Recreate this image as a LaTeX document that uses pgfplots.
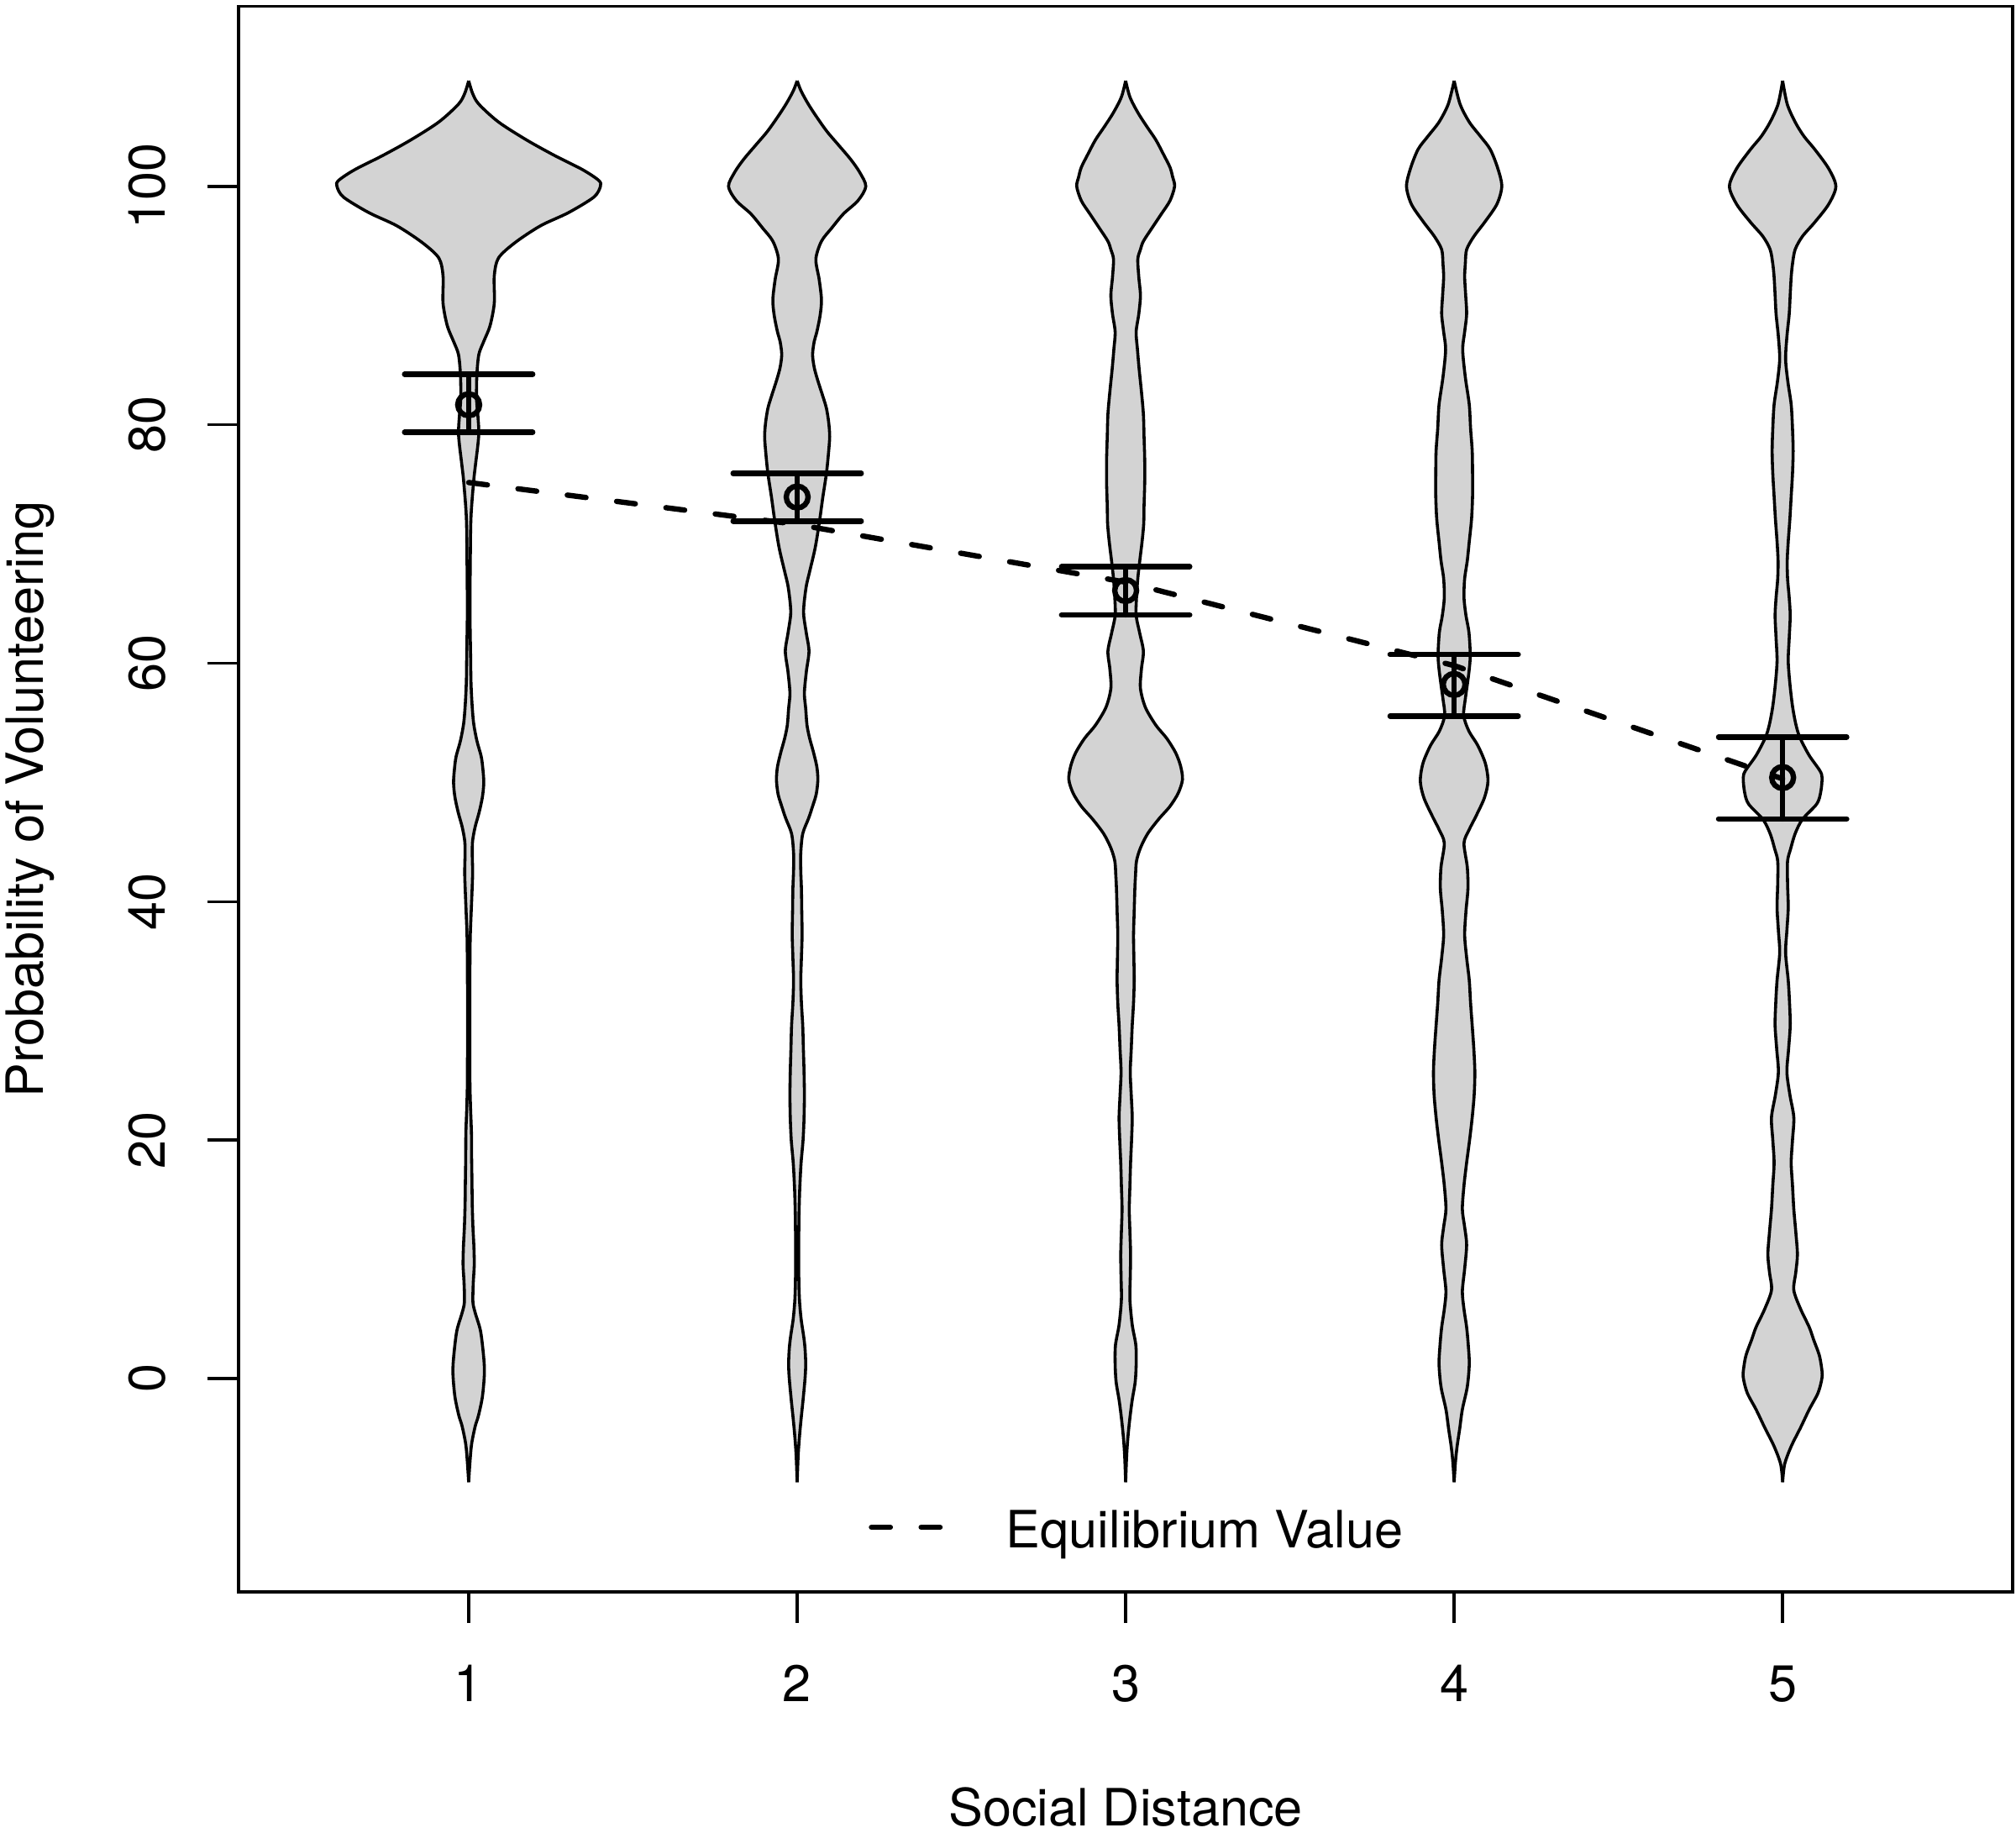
\documentclass[border=0pt]{standalone}
\usepackage{fontspec}
\setmainfont{TeX Gyre Heros}
\usepackage{pgfplots}
\usepackage{pgfplotstable}
\pgfplotsset{compat=1.18}
\usepgfplotslibrary{fillbetween}
\definecolor{vgray}{RGB}{211,211,211}
\newcommand\fs{\fontsize{12}{14.4}\selectfont}

% violin half-widths (x units) against y
\pgfplotstableread{
y w
-8.7 0
-7.0 0.004
-5.5 0.009
-4.0 0.020
-3.1 0.030
-1.5 0.042
0.5 0.048
2.0 0.045
4.0 0.036
5.5 0.020
6.4 0.013
8.0 0.014
9.5 0.017
11.0 0.016
12.7 0.013
14.5 0.011
16.6 0.010
18.5 0.009
20.6 0.0085
22.5 0.006
24.6 0.004
28.0 0.0035
32.4 0.0035
35.0 0.004
37.2 0.005
40.0 0.009
42.3 0.012
44.0 0.011
45.1 0.012
46.3 0.020
47.5 0.032
48.8 0.042
50.0 0.046
51.2 0.043
52.2 0.038
53.5 0.025
55.0 0.015
56.7 0.010
58.5 0.007
60.5 0.006
64.3 0.004
68.6 0.005
72.2 0.007
75.2 0.015
76.7 0.021
78.3 0.028
79.4 0.031
80.8 0.028
82.2 0.024
84.2 0.025
85.9 0.031
87.0 0.046
88.3 0.065
90.2 0.078
92.5 0.078
94.0 0.091
95.3 0.142
96.7 0.219
97.8 0.304
99.1 0.381
100.0 0.401
100.5 0.396
101.4 0.347
102.6 0.261
103.9 0.176
105.4 0.091
106.9 0.031
107.8 0.012
108.86 0
}\vA

\pgfplotstableread{
y w
-8.7 0
-6.5 0.003
-4.9 0.007
-3.4 0.012
-1.8 0.018
0.0 0.024
1.2 0.026
2.5 0.024
3.5 0.020
5.0 0.012
6.6 0.007
8.5 0.005
10.4 0.005
12.3 0.005
14.2 0.006
16.0 0.008
18.1 0.012
20.0 0.018
21.9 0.021
23.8 0.022
25.7 0.021
27.6 0.019
29.6 0.017
31.5 0.013
33.4 0.011
35.3 0.013
37.2 0.015
39.2 0.014
41.1 0.013
42.6 0.011
44.1 0.011
45.7 0.017
47.0 0.035
48.0 0.047
49.0 0.058
50.2 0.063
51.3 0.060
52.5 0.050
53.7 0.038
54.8 0.030
56.2 0.026
57.5 0.022
59.3 0.028
61.0 0.036
62.5 0.028
64.0 0.020
65.0 0.021
66.5 0.028
67.8 0.039
69.7 0.055
71.9 0.068
73.9 0.078
75.9 0.089
77.5 0.095
79.0 0.099
80.2 0.096
81.4 0.089
82.5 0.077
83.7 0.063
84.8 0.052
85.9 0.047
87.0 0.052
87.8 0.060
89.2 0.070
90.5 0.074
92.2 0.067
93.9 0.057
95.4 0.074
96.5 0.105
97.7 0.141
98.8 0.185
100.0 0.209
101.2 0.190
102.3 0.162
103.5 0.125
104.6 0.091
105.8 0.060
106.9 0.034
108.0 0.012
108.86 0
}\vB

\pgfplotstableread{
y w
-8.7 0
-6.5 0.003
-4.9 0.007
-3.3 0.013
-1.8 0.020
-0.3 0.029
1.2 0.032
2.8 0.031
4.5 0.020
6.6 0.013
8.5 0.014
10.4 0.015
12.3 0.013
14.2 0.011
16.2 0.013
18.1 0.015
20.0 0.018
21.9 0.020
23.8 0.017
25.7 0.014
27.6 0.017
29.6 0.020
31.5 0.024
33.4 0.026
35.3 0.025
37.2 0.024
39.2 0.026
41.1 0.028
42.2 0.030
43.4 0.033
44.5 0.045
45.7 0.067
46.9 0.100
48.0 0.135
49.1 0.160
50.25 0.173
51.4 0.167
52.5 0.152
53.7 0.125
54.8 0.092
56.3 0.060
57.9 0.045
59.5 0.048
61.0 0.054
62.5 0.043
64.0 0.032
65.5 0.033
67.1 0.037
68.6 0.043
70.2 0.050
71.7 0.055
73.2 0.056
75.1 0.058
77.1 0.058
79.0 0.056
80.9 0.054
82.8 0.048
84.7 0.041
86.3 0.036
87.8 0.032
89.3 0.040
90.85 0.045
92.4 0.040
93.9 0.037
94.7 0.045
95.4 0.054
96.5 0.080
97.7 0.109
98.8 0.135
100.0 0.149
100.8 0.143
101.6 0.135
102.7 0.115
103.9 0.092
105.0 0.065
106.2 0.037
107.5 0.013
108.86 0
}\vC

\pgfplotstableread{
y w
-8.7 0
-7.0 0.004
-5.7 0.009
-4.2 0.017
-2.6 0.025
-0.7 0.040
1.2 0.046
2.8 0.043
4.3 0.038
5.8 0.030
7.3 0.025
9.2 0.032
11.2 0.038
12.7 0.032
14.2 0.025
16.2 0.030
18.1 0.038
20.0 0.047
21.9 0.055
23.8 0.061
25.7 0.063
27.6 0.060
29.6 0.055
31.5 0.050
33.4 0.046
35.3 0.038
37.2 0.032
39.2 0.036
41.1 0.042
42.9 0.040
44.9 0.030
46.0 0.045
47.2 0.067
48.7 0.092
50.1 0.103
51.6 0.095
53.1 0.072
54.3 0.045
55.6 0.029
57.0 0.034
58.2 0.040
59.5 0.046
60.7 0.049
62.6 0.045
64.0 0.036
65.5 0.030
67.1 0.032
68.6 0.040
70.2 0.046
72.1 0.053
74.0 0.056
75.9 0.056
77.8 0.055
79.7 0.050
81.7 0.046
84.0 0.034
86.3 0.026
87.8 0.032
89.3 0.038
90.9 0.035
92.4 0.032
93.5 0.034
94.7 0.038
95.8 0.060
97.0 0.093
98.5 0.130
100.0 0.145
101.5 0.133
103.1 0.110
104.2 0.080
105.4 0.046
106.9 0.018
108.86 0
}\vD

\pgfplotstableread{
y w
-8.7 0
-7.2 0.006
-5.7 0.026
-4.1 0.055
-2.6 0.081
-1.2 0.108
0.1 0.120
1.0 0.118
2.0 0.111
3.2 0.095
4.3 0.081
5.8 0.055
7.4 0.034
8.9 0.040
10.4 0.045
12.3 0.040
14.2 0.034
16.2 0.030
18.1 0.026
20.0 0.030
21.9 0.034
23.8 0.022
25.7 0.013
27.6 0.018
29.6 0.023
31.5 0.021
33.4 0.017
35.7 0.009
37.6 0.013
39.5 0.017
41.5 0.015
43.4 0.015
44.4 0.024
45.7 0.038
46.9 0.060
48.2 0.104
49.2 0.116
50.4 0.120
51.0 0.113
52.3 0.080
53.8 0.052
54.9 0.040
56.4 0.030
58.3 0.022
60.2 0.017
62.1 0.020
64.0 0.023
65.5 0.020
67.1 0.015
68.6 0.014
70.2 0.017
72.1 0.022
74.0 0.026
75.9 0.030
77.8 0.032
79.7 0.030
81.7 0.026
83.6 0.016
85.5 0.009
87.4 0.013
89.3 0.020
90.9 0.023
92.4 0.026
93.5 0.030
94.7 0.038
95.8 0.060
97.0 0.098
98.5 0.140
100.0 0.162
101.5 0.140
103.1 0.098
104.2 0.065
105.4 0.038
106.9 0.014
108.86 0
}\vE

% confidence intervals: caps and vertical bars
\pgfplotstableread{
x y
0.805 84.24
1.195 84.24
nan nan
0.805 79.38
1.195 79.38
nan nan
1 79.38
1 84.24
nan nan
1.805 75.93
2.195 75.93
nan nan
1.805 71.92
2.195 71.92
nan nan
2 71.92
2 75.93
nan nan
2.805 68.10
3.195 68.10
nan nan
2.805 64.05
3.195 64.05
nan nan
3 64.05
3 68.10
nan nan
3.805 60.73
4.195 60.73
nan nan
3.805 55.57
4.195 55.57
nan nan
4 55.57
4 60.73
nan nan
4.805 53.81
5.195 53.81
nan nan
4.805 46.94
5.195 46.94
nan nan
5 46.94
5 53.81
}\ciTab

\begin{document}
\begin{tikzpicture}
\begin{axis}[
  scale only axis,
  width=413.9pt, height=369.9pt,
  xmin=0.3, xmax=5.7, ymin=-17.9, ymax=115.1,
  clip=false,
  axis line style={line width=0.7pt},
  tick style={line width=0.7pt, black},
  major tick length=7.3pt,
  tick align=outside,
  xtick pos=left, ytick pos=left,
  xtick={1,2,3,4,5}, ytick={0,20,40,60,80,100},
  /pgf/number format/assume math mode=true,
  ticklabel style={font=\fs},
  xticklabel style={anchor=base, inner sep=0pt},
  xticklabel shift=18.2pt,
  yticklabel style={rotate=90, anchor=base, inner sep=0pt},
  yticklabel shift=9.8pt,
  xlabel={Social Distance},
  ylabel={Probability of Volunteering},
  every axis x label/.style={at={(axis description cs:0.5,-0.1474)}, anchor=base, font=\fs},
  every axis y label/.style={at={(axis description cs:-0.1102,0.5)}, rotate=90, anchor=base, font=\fs},
  legend style={draw=none, fill=none, at={(axis cs:2.218,-12.9)}, anchor=west,
    inner sep=0pt, outer sep=0pt, font=\fs, nodes={inner sep=0pt}},
  legend cell align=left,
  legend image code/.code={\draw[#1] (0pt,1.15pt) -- (16.3pt,1.15pt); \path[draw=none] (0pt,1.15pt) -- (31.4pt,1.15pt);},
  vline/.style={forget plot, black, line width=0.7pt, smooth, tension=0.5},
]
% violins
\addplot[vline, name path=r1] table[x expr=1+\thisrow{w}, y=y]{\vA};
\addplot[vline, name path=l1] table[x expr=1-\thisrow{w}, y=y]{\vA};
\addplot[forget plot, fill=vgray, draw=none] fill between[of=r1 and l1];
\addplot[vline, name path=r2] table[x expr=2+\thisrow{w}, y=y]{\vB};
\addplot[vline, name path=l2] table[x expr=2-\thisrow{w}, y=y]{\vB};
\addplot[forget plot, fill=vgray, draw=none] fill between[of=r2 and l2];
\addplot[vline, name path=r3] table[x expr=3+\thisrow{w}, y=y]{\vC};
\addplot[vline, name path=l3] table[x expr=3-\thisrow{w}, y=y]{\vC};
\addplot[forget plot, fill=vgray, draw=none] fill between[of=r3 and l3];
\addplot[vline, name path=r4] table[x expr=4+\thisrow{w}, y=y]{\vD};
\addplot[vline, name path=l4] table[x expr=4-\thisrow{w}, y=y]{\vD};
\addplot[forget plot, fill=vgray, draw=none] fill between[of=r4 and l4];
\addplot[vline, name path=r5] table[x expr=5+\thisrow{w}, y=y]{\vE};
\addplot[vline, name path=l5] table[x expr=5-\thisrow{w}, y=y]{\vE};
\addplot[forget plot, fill=vgray, draw=none] fill between[of=r5 and l5];

% confidence intervals
\addplot[forget plot, black, line width=1.25pt, line cap=round, unbounded coords=jump] table[x=x, y=y]{\ciTab};

% equilibrium value
\addplot[black, line width=1.25pt, line cap=round, dash pattern=on 4.4pt off 7.2pt]
  coordinates {(1,75.16) (2,71.64) (3,66.8) (4,59.8) (5,50.3)};
\addlegendentry{Equilibrium Value}

% means
\addplot[forget plot, only marks, mark=o, mark size=2.55pt, mark options={black, line width=1.25pt, solid}]
  coordinates {(1,81.68) (2,73.94) (3,66.1) (4,58.22) (5,50.41)};
\end{axis}
\pgfresetboundingbox
\path[use as bounding box] ([shift={(-55.7pt,-56.25pt)}]current axis.south west) rectangle ([shift={(0.8pt,1.5pt)}]current axis.north east);
\end{tikzpicture}
\end{document}
